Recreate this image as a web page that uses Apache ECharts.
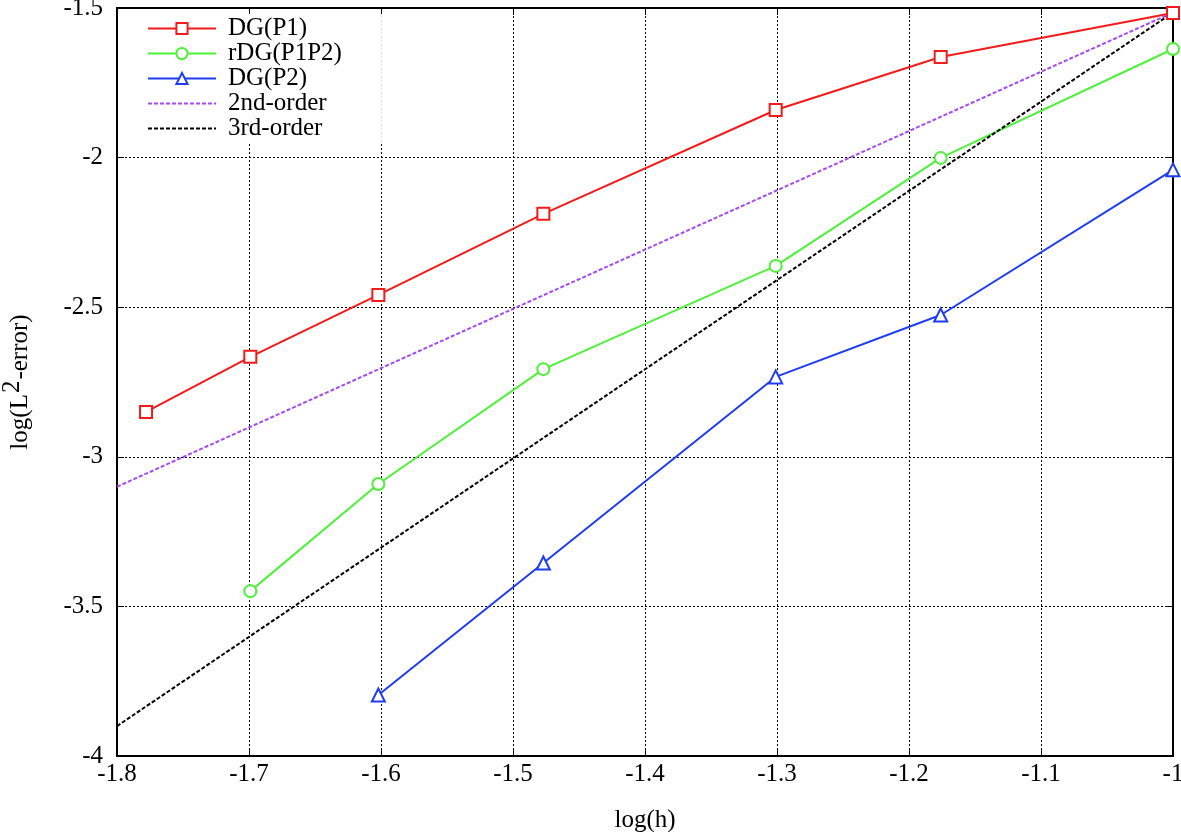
<!DOCTYPE html>
<html>
<head>
<meta charset="utf-8">
<script src="https://cdn.jsdelivr.net/npm/echarts@6/dist/echarts.min.js"></script>
<style>html,body{margin:0;padding:0;background:#fff}#c{width:1181px;height:832px}</style>
</head>
<body>
<div id="c"></div>
<script>
// log10(h) for h = 1/60, 1/50, 1/40, 1/30, 1/20, 1/15, 1/10
const logH = [-1.778, -1.699, -1.602, -1.477, -1.301, -1.176, -1.0];
const dgP1   = [-2.850, -2.666, -2.459, -2.188, -1.841, -1.664, -1.517];
const rdgP1P2 = [null, -3.449, -3.091, -2.707, -2.362, -2.001, -1.637];
const dgP2   = [null, null, -3.796, -3.355, -2.733, -2.526, -2.041];
const order2X = [-1.8, -1.0];
const order2Y = [-3.10, -1.515];
const order3X = [-1.8, -1.0];
const order3Y = [-3.90, -1.515];
const seriesNames = ['DG(P1)', 'rDG(P1P2)', 'DG(P2)', '2nd-order', '3rd-order'];

function pairs(xs, ys) {
  const out = [];
  for (let i = 0; i < xs.length; i++) if (ys[i] !== null) out.push([xs[i], ys[i]]);
  return out;
}

const font = 'Liberation Serif';
const fs = 25;
const chart = echarts.init(document.getElementById('c'), null, {renderer: 'canvas'});
const mainAxisCommon = {
  type: 'value',
  axisLine: {show: false},
  axisTick: {show: true, inside: true, length: 7, lineStyle: {color: '#000', width: 1}},
  splitLine: {show: true, lineStyle: {color: '#000', width: 1, type: [2, 2]}},
  axisLabel: {color: '#000', fontFamily: font, fontSize: fs},
  nameTextStyle: {color: '#000', fontFamily: font, fontSize: fs}
};
const mirrorAxis = {
  type: 'value',
  axisLine: {show: false},
  axisTick: {show: true, inside: true, length: 7, lineStyle: {color: '#000', width: 1}},
  splitLine: {show: false},
  axisLabel: {show: false}
};
chart.setOption({
  animation: false,
  backgroundColor: '#fff',
  grid: {left: 117, right: 8, top: 8, bottom: 76, outerBoundsMode: 'none', containLabel: false,
         show: true, borderColor: '#000', borderWidth: 2, backgroundColor: 'transparent'},
  xAxis: [
    Object.assign({}, mainAxisCommon, {
      min: -1.8, max: -1.0, interval: 0.1, position: 'bottom',
      name: 'log(h)', nameLocation: 'middle', nameGap: 52,
      axisLabel: Object.assign({}, mainAxisCommon.axisLabel, {margin: 6})
    }),
    Object.assign({}, mirrorAxis, {min: -1.8, max: -1.0, interval: 0.1, position: 'top'})
  ],
  yAxis: [
    Object.assign({}, mainAxisCommon, {
      min: -4, max: -1.5, interval: 0.5, position: 'left',
      name: 'log(L{sup|2}-error)', nameLocation: 'middle', nameGap: 76,
      nameTextStyle: {color: '#000', fontFamily: font, fontSize: fs, rich: {sup: {fontFamily: font, fontSize: fs, padding: [0, 1, 16, 1], color: '#000'}}},
      axisLabel: Object.assign({}, mainAxisCommon.axisLabel, {margin: 14})
    }),
    Object.assign({}, mirrorAxis, {min: -4, max: -1.5, interval: 0.5, position: 'right'})
  ],
  legend: {
    orient: 'vertical', left: 120, top: 14,
    padding: [2, 40, 2, 27],
    backgroundColor: '#fff',
    itemWidth: 68, itemHeight: 14, itemGap: 0,
    textStyle: {color: '#000', fontFamily: font, fontSize: fs, padding: [0, 0, 0, 7], lineHeight: 25},
    data: [
      {name: seriesNames[0]},
      {name: seriesNames[1]},
      {name: seriesNames[2]},
      {name: seriesNames[3], itemStyle: {opacity: 0}},
      {name: seriesNames[4], itemStyle: {opacity: 0}}
    ]
  },
  series: [
    {name: seriesNames[0], type: 'line', data: pairs(logH, dgP1), symbol: 'emptyRect', symbolSize: 12,
     lineStyle: {color: '#f21b1b', width: 2}, itemStyle: {color: '#f21b1b', borderWidth: 2}},
    {name: seriesNames[1], type: 'line', data: pairs(logH, rdgP1P2), symbol: 'emptyCircle', symbolSize: 12,
     lineStyle: {color: '#4ef03a', width: 2}, itemStyle: {color: '#4ef03a', borderWidth: 2}},
    {name: seriesNames[2], type: 'line', data: pairs(logH, dgP2), symbol: 'emptyTriangle', symbolSize: 13,
     lineStyle: {color: '#1f3cf5', width: 2}, itemStyle: {color: '#1f3cf5', borderWidth: 2}},
    {name: seriesNames[3], type: 'line', data: pairs(order2X, order2Y), symbol: 'none',
     lineStyle: {color: '#a64af0', width: 2, type: [4, 2]}, itemStyle: {color: '#a64af0'}},
    {name: seriesNames[4], type: 'line', data: pairs(order3X, order3Y), symbol: 'none',
     lineStyle: {color: '#000', width: 2, type: [4, 2]}, itemStyle: {color: '#000'}}
  ]
});
</script>
</body>
</html>
